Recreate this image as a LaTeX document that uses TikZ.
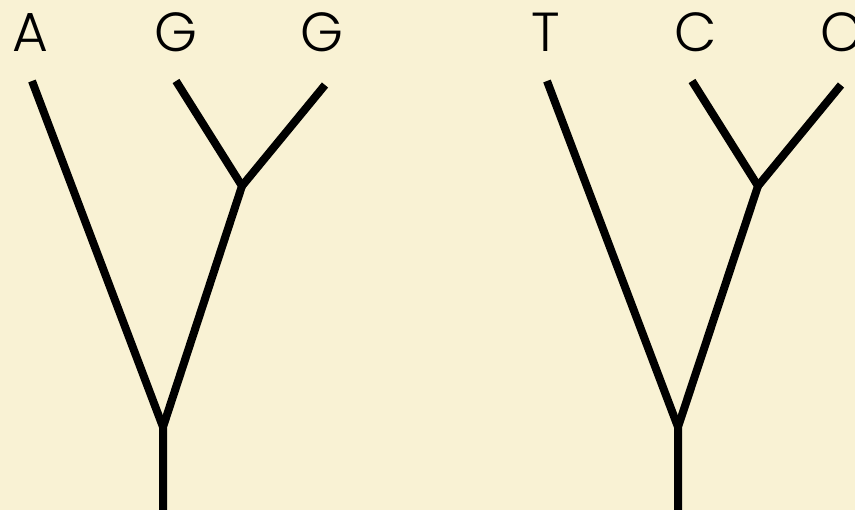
\documentclass[tikz,border=0pt]{standalone}
\usepackage{fontspec}
\setmainfont{Poppins}[UprightFont={* Light}]
\definecolor{paper}{RGB}{249,242,212}
\begin{document}
\begin{tikzpicture}[x=1pt,y=-1pt,
  branch/.style={line width=8pt,line cap=butt,line join=miter},
  base/.style={font=\fontsize{55}{55}\selectfont,anchor=base,inner sep=0pt}]
\useasboundingbox[fill=paper] (0,0) rectangle (855,510);
% labels
\node[base] (lA) at (30,52) {A};
\node[base] (lG1) at (176,52) {G};
\node[base] (lG2) at (322,52) {G};
\node[base] (lT) at (546,52) {T};
\node[base] (lC1) at (696,52) {C};
\node[base] (lC2) at (842,52) {C};
% left tree
\coordinate (a) at (32,81);
\coordinate (g1) at (176,81);
\coordinate (g2) at (325,85);
\coordinate (j1) at (242,186);
\coordinate (r1) at (163,427);
\coordinate (b1) at (163,510);
\draw[branch] (a) -- (r1);
\draw[branch] (g1) -- (j1);
\draw[branch] (g2) -- (j1);
\draw[branch] (j1) -- (r1) -- (b1);
% right tree
\coordinate (t) at (547,81);
\coordinate (c1) at (692,81);
\coordinate (c2) at (841,85);
\coordinate (j2) at (758,186);
\coordinate (r2) at (678,427);
\coordinate (b2) at (678,510);
\draw[branch] (t) -- (r2);
\draw[branch] (c1) -- (j2);
\draw[branch] (c2) -- (j2);
\draw[branch] (j2) -- (r2) -- (b2);
\end{tikzpicture}
\end{document}
